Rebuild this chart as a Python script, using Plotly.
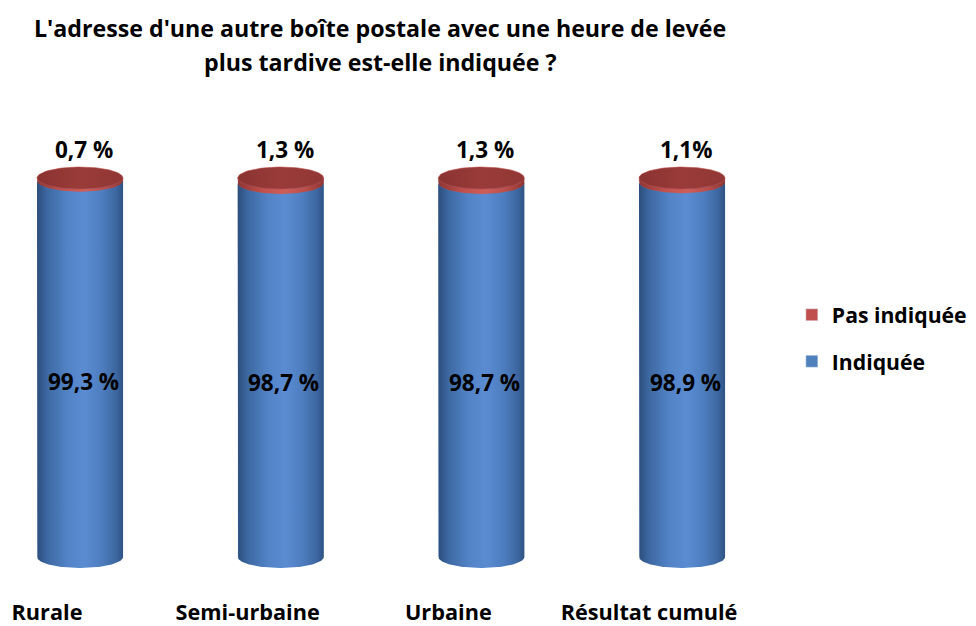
import numpy as np
import plotly.graph_objects as go

# ---------------- data ----------------
categories = ["Rurale", "Semi-urbaine", "Urbaine", "Résultat cumulé"]
indiquee = [99.3, 98.7, 98.7, 98.9]
pas_indiquee = [0.7, 1.3, 1.3, 1.1]
labels_indiquee = ["99,3 %", "98,7 %", "98,7 %", "98,9 %"]
labels_pas = ["0,7 %", "1,3 %", "1,3 %", "1,1%"]
series_names = ["Indiquée", "Pas indiquée"]
title_lines = ["L'adresse d'une autre boîte postale avec une heure de levée",
               "plus tardive est-elle indiquée ?"]

# ---------------- style ----------------
FONT = "Open Sans"
BLUE = "#4F81BD"
RED = "#C0504D"
HALF_W = 0.2143      # cylinder half width (category units)
ELL_H = 2.9          # ellipse half height (value units)
N = 60

blue_scale = [[0, "#2C4E7C"], [0.12, "#3D68A2"], [0.35, "#5283C6"],
              [0.55, "#5B8CD2"], [0.75, "#4E7EC0"], [0.92, "#3D67A0"],
              [1, "#2E5383"]]
red_side_scale = [[0, "#8E3533"], [0.3, "#C2504D"], [0.55, "#CF5F5B"],
                  [0.8, "#B94C49"], [1, "#8C3431"]]
red_top_scale = [[0, "#8A3331"], [0.5, "#9A3B39"], [1, "#913735"]]

fig = go.Figure()

xs = list(range(len(categories)))

# bars (data marks + legend swatches)
fig.add_trace(go.Bar(x=xs, y=indiquee, name=series_names[0], marker_color=BLUE,
                     width=2 * HALF_W, legendgroup="a", legendrank=2, hoverinfo="skip"))
fig.add_trace(go.Bar(x=xs, y=pas_indiquee, name=series_names[1], marker_color=RED,
                     width=2 * HALF_W, legendgroup="b", legendrank=1, hoverinfo="skip"))

t_low = np.linspace(np.pi, 2 * np.pi, N)   # front (lower) half arc, left -> right

for i, (vb, vr) in enumerate(zip(indiquee, pas_indiquee)):
    cx = xs[i]
    seam = vb
    top = vb + vr
    # blue body
    bx = [cx - HALF_W, cx - HALF_W] + list(cx + HALF_W * np.cos(t_low)) + \
         [cx + HALF_W] + list(cx + HALF_W * np.cos(t_low[::-1]))
    by = [seam, 0] + list(0 + ELL_H * np.sin(t_low)) + \
         [seam] + list(seam + ELL_H * np.sin(t_low[::-1]))
    fig.add_trace(go.Scatter(x=bx, y=by, mode="lines", line=dict(width=0),
                             fill="toself",
                             fillgradient=dict(type="horizontal", colorscale=blue_scale),
                             showlegend=False, hoverinfo="skip"))
    # red side band
    rx = [cx - HALF_W, cx - HALF_W] + list(cx + HALF_W * np.cos(t_low)) + \
         [cx + HALF_W] + list(cx + HALF_W * np.cos(t_low[::-1]))
    ry = [top, seam] + list(seam + ELL_H * np.sin(t_low)) + \
         [top] + list(top + ELL_H * np.sin(t_low[::-1]))
    fig.add_trace(go.Scatter(x=rx, y=ry, mode="lines", line=dict(width=0),
                             fill="toself",
                             fillgradient=dict(type="horizontal", colorscale=red_side_scale),
                             showlegend=False, hoverinfo="skip"))
    # top face
    tt = np.linspace(0, 2 * np.pi, 2 * N)
    fig.add_trace(go.Scatter(x=cx + HALF_W * np.cos(tt), y=top + ELL_H * np.sin(tt),
                             mode="lines", line=dict(width=0.6, color="#B54845"),
                             fill="toself",
                             fillgradient=dict(type="horizontal", colorscale=red_top_scale),
                             showlegend=False, hoverinfo="skip"))
    # labels
    fig.add_annotation(x=cx, y=top, text=labels_pas[i], showarrow=False,
                       xshift=4, yshift=29,
                       font=dict(family=FONT, size=22.5, color="black", weight="bold"))
    fig.add_annotation(x=cx, y=vb / 2, text=labels_indiquee[i], showarrow=False,
                       xshift=3, yshift=-13,
                       font=dict(family=FONT, size=22.5, color="black", weight="bold"))

# title
fig.add_annotation(x=0.5, y=1.2545, xref="paper", yref="paper", text=title_lines[0],
                   xanchor="center", yanchor="middle", showarrow=False,
                   font=dict(family=FONT, size=23.2, color="black", weight="bold"))
fig.add_annotation(x=0.5, y=1.177, xref="paper", yref="paper", text=title_lines[1],
                   xanchor="center", yanchor="middle", showarrow=False,
                   font=dict(family=FONT, size=23.2, color="black", weight="bold"))

fig.update_layout(
    width=976, height=626,
    margin=dict(l=12, r=244, t=132, b=54, autoexpand=False),
    paper_bgcolor="white", plot_bgcolor="white",
    barmode="stack",
    showlegend=True,
    legend=dict(x=1.072, xanchor="left", y=0.549, yanchor="middle",
                traceorder="grouped", tracegroupgap=16,
                font=dict(family=FONT, size=21.2, color="black", weight="bold"),
                bgcolor="rgba(0,0,0,0)"),
    xaxis=dict(range=[-0.299, 3.289], tickvals=xs, ticktext=categories,
               showgrid=False, zeroline=False, showline=False, ticks="",
               ticklabelshift=-33, ticklabelstandoff=17,
               tickfont=dict(family=FONT, size=21.7, color="black", weight="bold")),
    yaxis=dict(range=[-6.07, 110.03], showgrid=False, zeroline=False,
               showline=False, showticklabels=False, ticks=""),
)

fig.write_html("out.html")
